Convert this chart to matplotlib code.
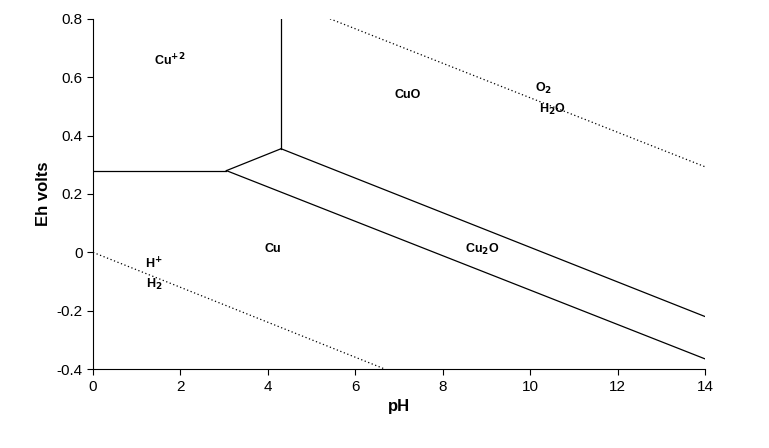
import matplotlib.pyplot as plt

plt.rcParams['font.family'] = ['Liberation Sans', 'DejaVu Sans']
plt.rcParams['mathtext.default'] = 'bf'

# boundary lines (pH, Eh)
cu2_cu = ([0, 3.05], [0.28, 0.28])
cu2_cuo = ([4.3, 4.3], [0.355, 0.8])
cu2_cu2o = ([3.05, 4.3], [0.28, 0.355])
cu2o_cuo = ([4.3, 14], [0.355, -0.22])
cu_cu2o = ([3.05, 14], [0.28, -0.365])
o2_h2o = ([5.42, 14], [0.8, 0.293])
h_h2 = ([0, 6.68], [0.0, -0.4])

labels = [("Cu$^{+2}$", 1.75, 0.66), ("CuO", 7.2, 0.54), ("O$_2$", 10.3, 0.56),
          ("H$_2$O", 10.5, 0.49), ("Cu", 4.1, 0.01), ("Cu$_2$O", 8.9, 0.01),
          ("H$^{+}$", 1.4, -0.04), ("H$_2$", 1.4, -0.11)]

fig = plt.figure(figsize=(7.69, 4.48), dpi=100)
ax = fig.add_axes([0.121, 0.176, 0.796, 0.782])
for xs, ys in [cu2_cu, cu2_cuo, cu2_cu2o, cu2o_cuo, cu_cu2o]:
    ax.plot(xs, ys, color='black', lw=0.9)
for xs, ys in [o2_h2o, h_h2]:
    ax.plot(xs, ys, color='black', lw=0.9, ls=(0, (1, 2)))
for t, x, y in labels:
    ax.text(x, y, t, fontsize=9, fontweight='bold', ha='center', va='center')

ax.spines['top'].set_visible(False)
ax.spines['right'].set_visible(False)
ax.set_xlim(0, 14)
ax.set_ylim(-0.4, 0.8)
ax.set_xticks(range(0, 15, 2))
ax.set_yticks([-0.4, -0.2, 0, 0.2, 0.4, 0.6, 0.8])
ax.set_yticklabels(['-0.4', '-0.2', '0', '0.2', '0.4', '0.6', '0.8'])
ax.tick_params(labelsize=11, direction='out', length=4)
ax.set_xlabel('pH', fontsize=12, fontweight='bold')
ax.set_ylabel('Eh volts', fontsize=12, fontweight='bold')
fig.savefig('out.png', dpi=100)
